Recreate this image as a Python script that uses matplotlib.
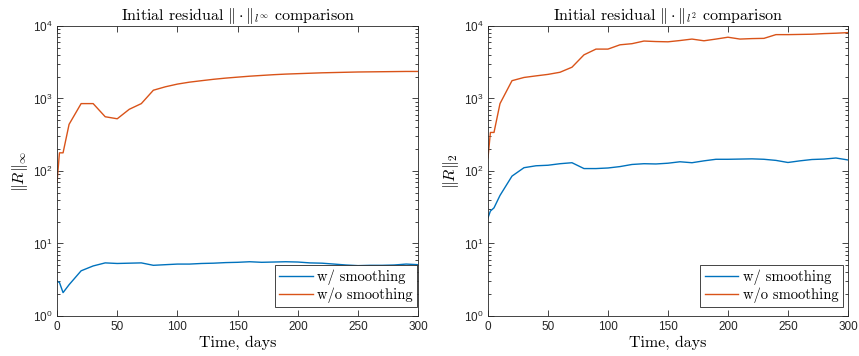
import matplotlib
matplotlib.use("Agg")
import matplotlib.pyplot as plt
from matplotlib.font_manager import FontProperties
from matplotlib.ticker import FixedLocator, LogLocator, NullFormatter
import numpy as np

# sample times, days
days = [0, 2, 5, 10] + list(range(20, 301, 10))

linf_smooth = [3.0, 2.9, 2.1, 2.7, 4.2, 4.9, 5.4, 5.3, 5.35, 5.4, 5.0, 5.1, 5.2, 5.2,
               5.3, 5.35, 5.45, 5.5, 5.6, 5.5, 5.55, 5.6, 5.55, 5.4, 5.35, 5.2, 5.05,
               4.95, 5.0, 5.0, 5.05, 5.2, 5.1]
linf_raw = [70, 178, 178, 440, 850, 850, 560, 525, 710, 850, 1300, 1450, 1580, 1680,
            1760, 1840, 1910, 1970, 2030, 2080, 2130, 2170, 2200, 2230, 2260, 2280,
            2300, 2320, 2330, 2340, 2350, 2360, 2360]

l2_smooth = [22.6, 28, 31, 46, 85, 111, 118, 120, 126, 130, 108, 108, 110, 115, 123,
             126, 125, 128, 134, 130, 138, 145, 145, 146, 147, 145, 140, 131, 138, 144,
             146, 151, 142]
l2_raw = [152, 340, 340, 850, 1760, 1950, 2050, 2150, 2300, 2700, 4000, 4800, 4800,
          5500, 5700, 6200, 6100, 6050, 6300, 6600, 6250, 6600, 7000, 6600, 6700, 6750,
          7600, 7600, 7650, 7700, 7850, 7950, 8100]

labels = ["w/ smoothing", "w/o smoothing"]
titles = [r"Initial residual $\|\cdot\|_{l^\infty}$ comparison",
          r"Initial residual $\|\cdot\|_{l^2}$ comparison"]
ylabels = [r"$\|R\|_\infty$", r"$\|R\|_2$"]

blue = "#0072BD"
orange = "#D95319"
axis_grey = "#262626"

plt.rcParams["font.family"] = ["Liberation Sans", "DejaVu Sans"]
plt.rcParams["mathtext.fontset"] = "custom"
plt.rcParams["mathtext.rm"] = "Liberation Sans"
plt.rcParams["mathtext.it"] = "Liberation Sans:italic"

fig = plt.figure(figsize=(8.59, 3.56), dpi=100)
ax_l = fig.add_axes([0.0664, 0.1124, 0.4205, 0.8146])
ax_r = fig.add_axes([0.5681, 0.1124, 0.4190, 0.8146])

cm_big = FontProperties(family="cmr10", size=11.5, math_fontfamily="cm")
cm_leg = FontProperties(family="cmr10", size=10.5, math_fontfamily="cm")

panels = [(ax_l, linf_smooth, linf_raw, titles[0], ylabels[0], 0.997),
          (ax_r, l2_smooth, l2_raw, titles[1], ylabels[1], 0.985)]

for ax, smooth, raw, title, ylabel, leg_x in panels:
    ax.plot(days, smooth, color=blue, linewidth=1.0, label=labels[0])
    ax.plot(days, raw, color=orange, linewidth=1.0, label=labels[1])
    ax.set_yscale("log")
    ax.set_xlim(0, 300)
    ax.set_ylim(1, 1e4)
    ax.xaxis.set_major_locator(FixedLocator(range(0, 301, 50)))
    ax.yaxis.set_major_locator(FixedLocator([1, 10, 100, 1000, 10000]))
    ax.yaxis.set_minor_locator(LogLocator(base=10, subs=np.arange(2, 10)))
    ax.yaxis.set_minor_formatter(NullFormatter())
    ax.set_yticklabels([r"$10^{0}$", r"$10^{1}$", r"$10^{2}$", r"$10^{3}$", r"$10^{4}$"])
    ax.tick_params(which="both", direction="in", top=True, right=True,
                   colors=axis_grey, labelsize=8.5, width=0.6)
    ax.tick_params(which="major", length=4)
    ax.tick_params(which="minor", length=2)
    for sp in ax.spines.values():
        sp.set_color(axis_grey)
        sp.set_linewidth(0.6)
    ax.set_title(title, fontproperties=cm_big, pad=4)
    ax.set_xlabel("Time, days", fontproperties=cm_big, labelpad=2)
    ax.set_ylabel(ylabel, fontproperties=cm_big, labelpad=2)
    leg = ax.legend(loc="lower right", bbox_to_anchor=(leg_x, 0.03), prop=cm_leg,
                    handlelength=2.3, handletextpad=0.3, borderpad=0.3,
                    labelspacing=0.15, borderaxespad=0, fancybox=False, framealpha=1)
    leg.get_frame().set_edgecolor(axis_grey)
    leg.get_frame().set_linewidth(0.6)

fig.savefig("out.png", dpi=100)
